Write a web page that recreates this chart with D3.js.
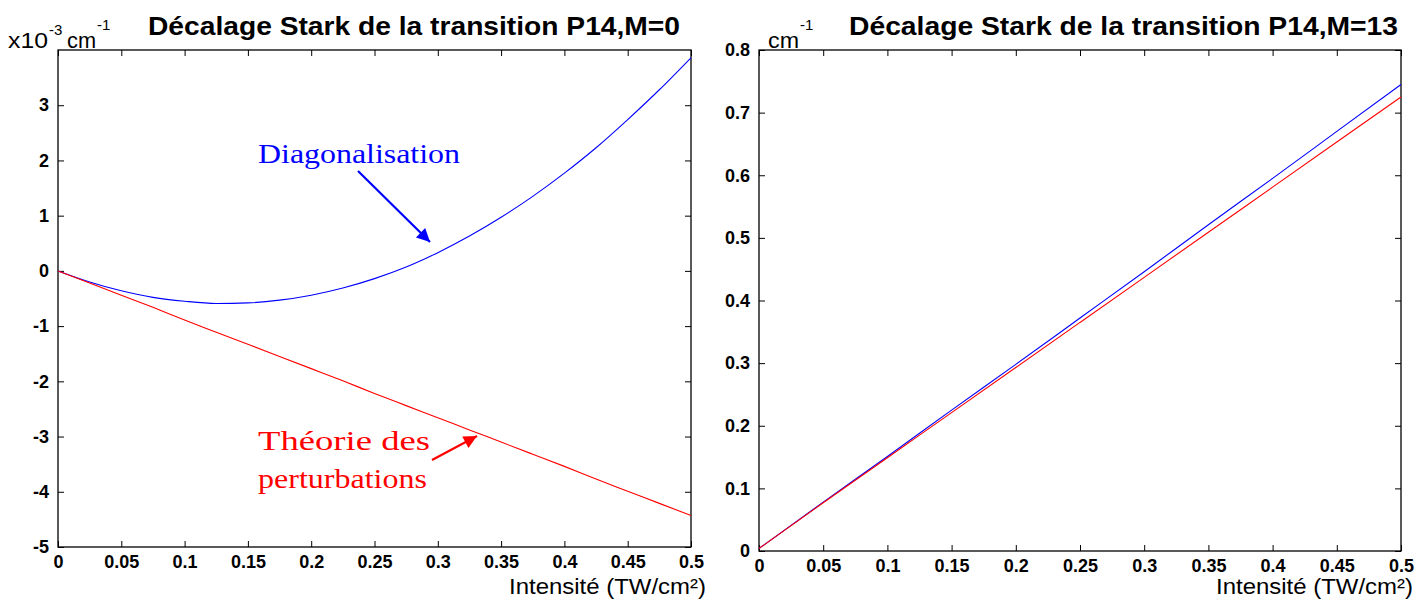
<!DOCTYPE html>
<html>
<head>
<meta charset="utf-8">
<script src="https://cdn.jsdelivr.net/npm/d3@7"></script>
<style>
  html, body { margin: 0; padding: 0; background: #fff; }
  svg { display: block; }
</style>
</head>
<body>
<svg id="chart" width="1415" height="599"></svg>
<script>
// Intensity grid (TW/cm²)
const intensityLeft = [0, 0.025, 0.05, 0.075, 0.1, 0.125, 0.15, 0.175, 0.2, 0.225, 0.25,
  0.275, 0.3, 0.325, 0.35, 0.375, 0.4, 0.425, 0.45, 0.475, 0.5];
// P14, M=0 Stark shift (x10^-3 cm^-1)
const diagM0 = [0, -0.20, -0.36, -0.48, -0.55, -0.59, -0.58, -0.53, -0.44, -0.31, -0.14,
  0.07, 0.33, 0.63, 0.97, 1.35, 1.77, 2.23, 2.74, 3.28, 3.86];
const pertM0 = [0, -0.22, -0.44, -0.66, -0.89, -1.11, -1.33, -1.55, -1.77, -1.99, -2.22,
  -2.44, -2.66, -2.88, -3.10, -3.32, -3.54, -3.77, -3.99, -4.21, -4.43];

const intensityRight = [0, 0.05, 0.1, 0.15, 0.2, 0.25, 0.3, 0.35, 0.4, 0.45, 0.5];
// P14, M=13 Stark shift (cm^-1)
const diagM13 = [0.004, 0.078, 0.151, 0.225, 0.298, 0.372, 0.446, 0.521, 0.595, 0.670, 0.745];
const pertM13 = [0.004, 0.077, 0.149, 0.221, 0.293, 0.365, 0.437, 0.509, 0.581, 0.653, 0.725];

const xTicks = [0, 0.05, 0.1, 0.15, 0.2, 0.25, 0.3, 0.35, 0.4, 0.45, 0.5];
const xTickLabels = ["0", "0.05", "0.1", "0.15", "0.2", "0.25", "0.3", "0.35", "0.4", "0.45", "0.5"];
const yTicksLeft = [-5, -4, -3, -2, -1, 0, 1, 2, 3];
const yTickLabelsLeft = ["-5", "-4", "-3", "-2", "-1", "0", "1", "2", "3"];
const yTicksRight = [0, 0.1, 0.2, 0.3, 0.4, 0.5, 0.6, 0.7, 0.8];
const yTickLabelsRight = ["0", "0.1", "0.2", "0.3", "0.4", "0.5", "0.6", "0.7", "0.8"];

const titles = ["Décalage Stark de la transition P14,M=0", "Décalage Stark de la transition P14,M=13"];
const xAxisTitle = "Intensité (TW/cm²)";
const annDiag = "Diagonalisation";
const annPert = ["Théorie des", "perturbations"];

const svg = d3.select("#chart");
const SANS = "'Liberation Sans', Arial, Helvetica, sans-serif";
const SERIF = "'Liberation Serif', 'Times New Roman', serif";

svg.append("defs").selectAll("marker")
  .data([["headBlue", "#0000ff"], ["headRed", "#ff0000"]])
  .join("marker")
  .attr("id", d => d[0])
  .attr("viewBox", "0 0 10 10")
  .attr("refX", 10).attr("refY", 5)
  .attr("markerWidth", 7).attr("markerHeight", 6)
  .attr("markerUnits", "strokeWidth")
  .attr("orient", "auto")
  .append("path").attr("d", "M0,0 L10,5 L0,10 Z").attr("fill", d => d[1]);

function panel(cfg) {
  const x = d3.scaleLinear().domain([0, 0.5]).range([cfg.left, cfg.right]);
  const y = d3.scaleLinear().domain(cfg.yDomain).range([cfg.bottom, cfg.top]);
  const g = svg.append("g");
  const tl = 6;

  // bottom axis with inward ticks and labels
  const bx = d3.axisBottom(x).tickValues(xTicks).tickSize(-tl).tickPadding(8)
    .tickFormat((d, i) => xTickLabels[i]);
  const gb = g.append("g").attr("transform", `translate(0,${cfg.bottom})`).call(bx);
  // mirrored ticks on top
  const gt = g.append("g").attr("transform", `translate(0,${cfg.top})`)
    .call(d3.axisTop(x).tickValues(xTicks).tickSize(-tl).tickFormat(""));
  // left axis
  const ly = d3.axisLeft(y).tickValues(cfg.yTicks).tickSize(-tl).tickPadding(9)
    .tickFormat((d, i) => cfg.yLabels[i]);
  const gl = g.append("g").attr("transform", `translate(${cfg.left},0)`).call(ly);
  const gr = g.append("g").attr("transform", `translate(${cfg.right},0)`)
    .call(d3.axisRight(y).tickValues(cfg.yTicks).tickSize(-tl).tickFormat(""));

  [gb, gt, gl, gr].forEach(a => {
    a.select(".domain").remove();
    a.selectAll(".tick line").attr("stroke", "#000").attr("stroke-width", 1);
    a.selectAll("text").attr("font-family", SANS).attr("font-size", 18)
      .attr("font-weight", "bold").attr("fill", "#000");
  });
  gb.selectAll("text").attr("dy", "0.71em");

  // box
  g.append("rect").attr("x", cfg.left).attr("y", cfg.top)
    .attr("width", cfg.right - cfg.left).attr("height", cfg.bottom - cfg.top)
    .attr("fill", "none").attr("stroke", "#000").attr("stroke-width", 1.3);

  const line = (xs, ys) => d3.line().x((d, i) => x(xs[i])).y(d => y(d)).curve(d3.curveMonotoneX)(ys);
  cfg.series.forEach(s => {
    g.append("path").attr("d", line(cfg.xs, s.values)).attr("fill", "none")
      .attr("stroke", s.color).attr("stroke-width", 1.1);
  });

  // title
  g.append("text").attr("x", cfg.titleX).attr("y", 35)
    .attr("font-family", SANS).attr("font-weight", "bold").attr("font-size", 25)
    .attr("textLength", cfg.titleW).attr("lengthAdjust", "spacingAndGlyphs")
    .text(cfg.title);

  // x axis title
  g.append("text").attr("x", cfg.xTitleRight - 197).attr("y", 594)
    .attr("font-family", SANS).attr("font-size", 22).attr("fill", "#000")
    .attr("textLength", 197).attr("lengthAdjust", "spacingAndGlyphs")
    .text(xAxisTitle);
  return { x, y, g };
}

const L = panel({
  left: 58, right: 691, top: 50, bottom: 547, yDomain: [-5, 4],
  yTicks: yTicksLeft, yLabels: yTickLabelsLeft, xs: intensityLeft,
  series: [{ values: diagM0, color: "#0000ff" }, { values: pertM0, color: "#ff0000" }],
  title: titles[0], titleX: 148, titleW: 532, xTitleRight: 706
});
const R = panel({
  left: 759, right: 1401, top: 50, bottom: 551, yDomain: [0, 0.8],
  yTicks: yTicksRight, yLabels: yTickLabelsRight, xs: intensityRight,
  series: [{ values: diagM13, color: "#0000ff" }, { values: pertM13, color: "#ff0000" }],
  title: titles[1], titleX: 849, titleW: 549, xTitleRight: 1413
});

// unit labels above the y axes
const unitL = svg.append("g").attr("font-family", SANS).attr("fill", "#000");
unitL.append("text").attr("x", 8).attr("y", 48).attr("font-size", 22)
  .attr("textLength", 40).attr("lengthAdjust", "spacingAndGlyphs").text("x10");
unitL.append("text").attr("x", 49).attr("y", 35).attr("font-size", 15).text("-3");
unitL.append("text").attr("x", 67).attr("y", 48).attr("font-size", 22)
  .attr("textLength", 29).attr("lengthAdjust", "spacingAndGlyphs").text("cm");
unitL.append("text").attr("x", 97).attr("y", 30).attr("font-size", 15).text("-1");

const unitR = svg.append("g").attr("font-family", SANS).attr("fill", "#000");
unitR.append("text").attr("x", 768).attr("y", 48).attr("font-size", 22)
  .attr("textLength", 31).attr("lengthAdjust", "spacingAndGlyphs").text("cm");
unitR.append("text").attr("x", 800).attr("y", 30).attr("font-size", 15).text("-1");

// annotations on the M=0 panel
svg.append("text").attr("x", 258).attr("y", 163).attr("font-family", SERIF)
  .attr("font-size", 28).attr("fill", "#0000ff")
  .attr("textLength", 202).attr("lengthAdjust", "spacingAndGlyphs").text(annDiag);
svg.append("line").attr("x1", 358).attr("y1", 171).attr("x2", 430).attr("y2", 242)
  .attr("stroke", "#0000ff").attr("stroke-width", 2.2).attr("marker-end", "url(#headBlue)");

svg.append("text").attr("x", 258).attr("y", 450).attr("font-family", SERIF)
  .attr("font-size", 28).attr("fill", "#ff0000")
  .attr("textLength", 172).attr("lengthAdjust", "spacingAndGlyphs").text(annPert[0]);
svg.append("text").attr("x", 258).attr("y", 488).attr("font-family", SERIF)
  .attr("font-size", 28).attr("fill", "#ff0000")
  .attr("textLength", 169).attr("lengthAdjust", "spacingAndGlyphs").text(annPert[1]);
svg.append("line").attr("x1", 432).attr("y1", 460).attr("x2", 477).attr("y2", 436)
  .attr("stroke", "#ff0000").attr("stroke-width", 2.2).attr("marker-end", "url(#headRed)");
</script>
</body>
</html>
